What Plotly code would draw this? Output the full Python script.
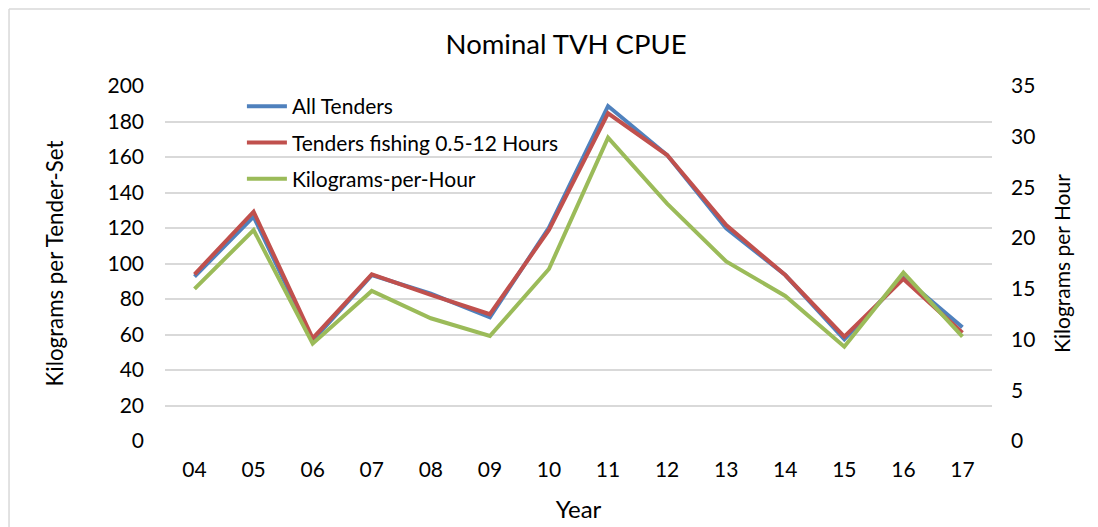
import plotly.graph_objects as go

years = ["04", "05", "06", "07", "08", "09", "10", "11", "12", "13", "14", "15", "16", "17"]
all_tenders = [92.6, 126.4, 56.5, 93.5, 83.0, 69.7, 120.2, 188.7, 161.1, 119.8, 93.5, 57.3, 92.2, 64.1]
tenders_0512 = [93.9, 129.2, 57.8, 93.9, 82.3, 71.4, 118.9, 184.6, 161.1, 121.7, 93.5, 58.8, 91.3, 61.0]
kg_per_hour = [15.0, 20.8, 9.6, 14.8, 12.1, 10.35, 16.96, 29.9, 23.4, 17.7, 14.3, 9.3, 16.6, 10.3]

FONT = "Lato"
fig = go.Figure()
fig.add_trace(go.Scatter(x=years, y=all_tenders, name="All Tenders", mode="lines",
                         line=dict(color="#4F81BD", width=4), legendgroup="a"))
fig.add_trace(go.Scatter(x=years, y=tenders_0512, name="Tenders fishing 0.5-12 Hours", mode="lines",
                         line=dict(color="#C0504D", width=4), legendgroup="b"))
fig.add_trace(go.Scatter(x=years, y=kg_per_hour, name="Kilograms-per-Hour", mode="lines",
                         line=dict(color="#9BBB59", width=4), yaxis="y2", legendgroup="c"))

fig.update_layout(
    width=1090, height=519,
    margin=dict(l=157, r=106, t=78, b=86, autoexpand=False),
    paper_bgcolor="white", plot_bgcolor="white",
    font=dict(family=FONT, size=21, color="#000000"),
    title=dict(text="Nominal TVH CPUE", x=0.512, xanchor="center", y=0.93, yanchor="middle",
               font=dict(family=FONT, size=27.5)),
    xaxis=dict(type="category", range=[-0.5, 13.5], showgrid=False, showline=False, zeroline=False,
               ticks="", ticklabelstandoff=14, automargin=False,
               title=dict(text="Year", standoff=21, font=dict(size=24))),
    yaxis=dict(range=[0, 200], dtick=20, showgrid=True, gridcolor="#D9D9D9", gridwidth=1.5,
               zeroline=False, showline=False, ticks="", ticklabelstandoff=20, automargin=False,
               title=dict(text="Kilograms per Tender-Set", standoff=37, font=dict(size=22.3))),
    yaxis2=dict(range=[0, 35], dtick=5, overlaying="y", side="right", showgrid=False,
                zeroline=False, showline=False, ticks="", ticklabelstandoff=18, automargin=False,
                title=dict(text="Kilograms per Hour", standoff=20, font=dict(size=21))),
    legend=dict(x=0.093, y=1.0, xanchor="left", yanchor="top", bgcolor="rgba(0,0,0,0)",
                font=dict(family=FONT, size=21), tracegroupgap=6, itemwidth=40),
    shapes=[
        dict(type="line", xref="paper", yref="paper", x0=-0.1886, x1=-0.1886, y0=-0.4, y1=1.217,
             line=dict(color="#D9D9D9", width=1.5), layer="below"),
        dict(type="line", xref="paper", yref="paper", x0=-0.1886, x1=1.3, y0=1.217, y1=1.217,
             line=dict(color="#D9D9D9", width=1.5), layer="below"),
    ],
)
fig.write_html(
    "out.html",
    post_script="document.documentElement.style.overflow='hidden';document.body.style.overflow='hidden';",
)
